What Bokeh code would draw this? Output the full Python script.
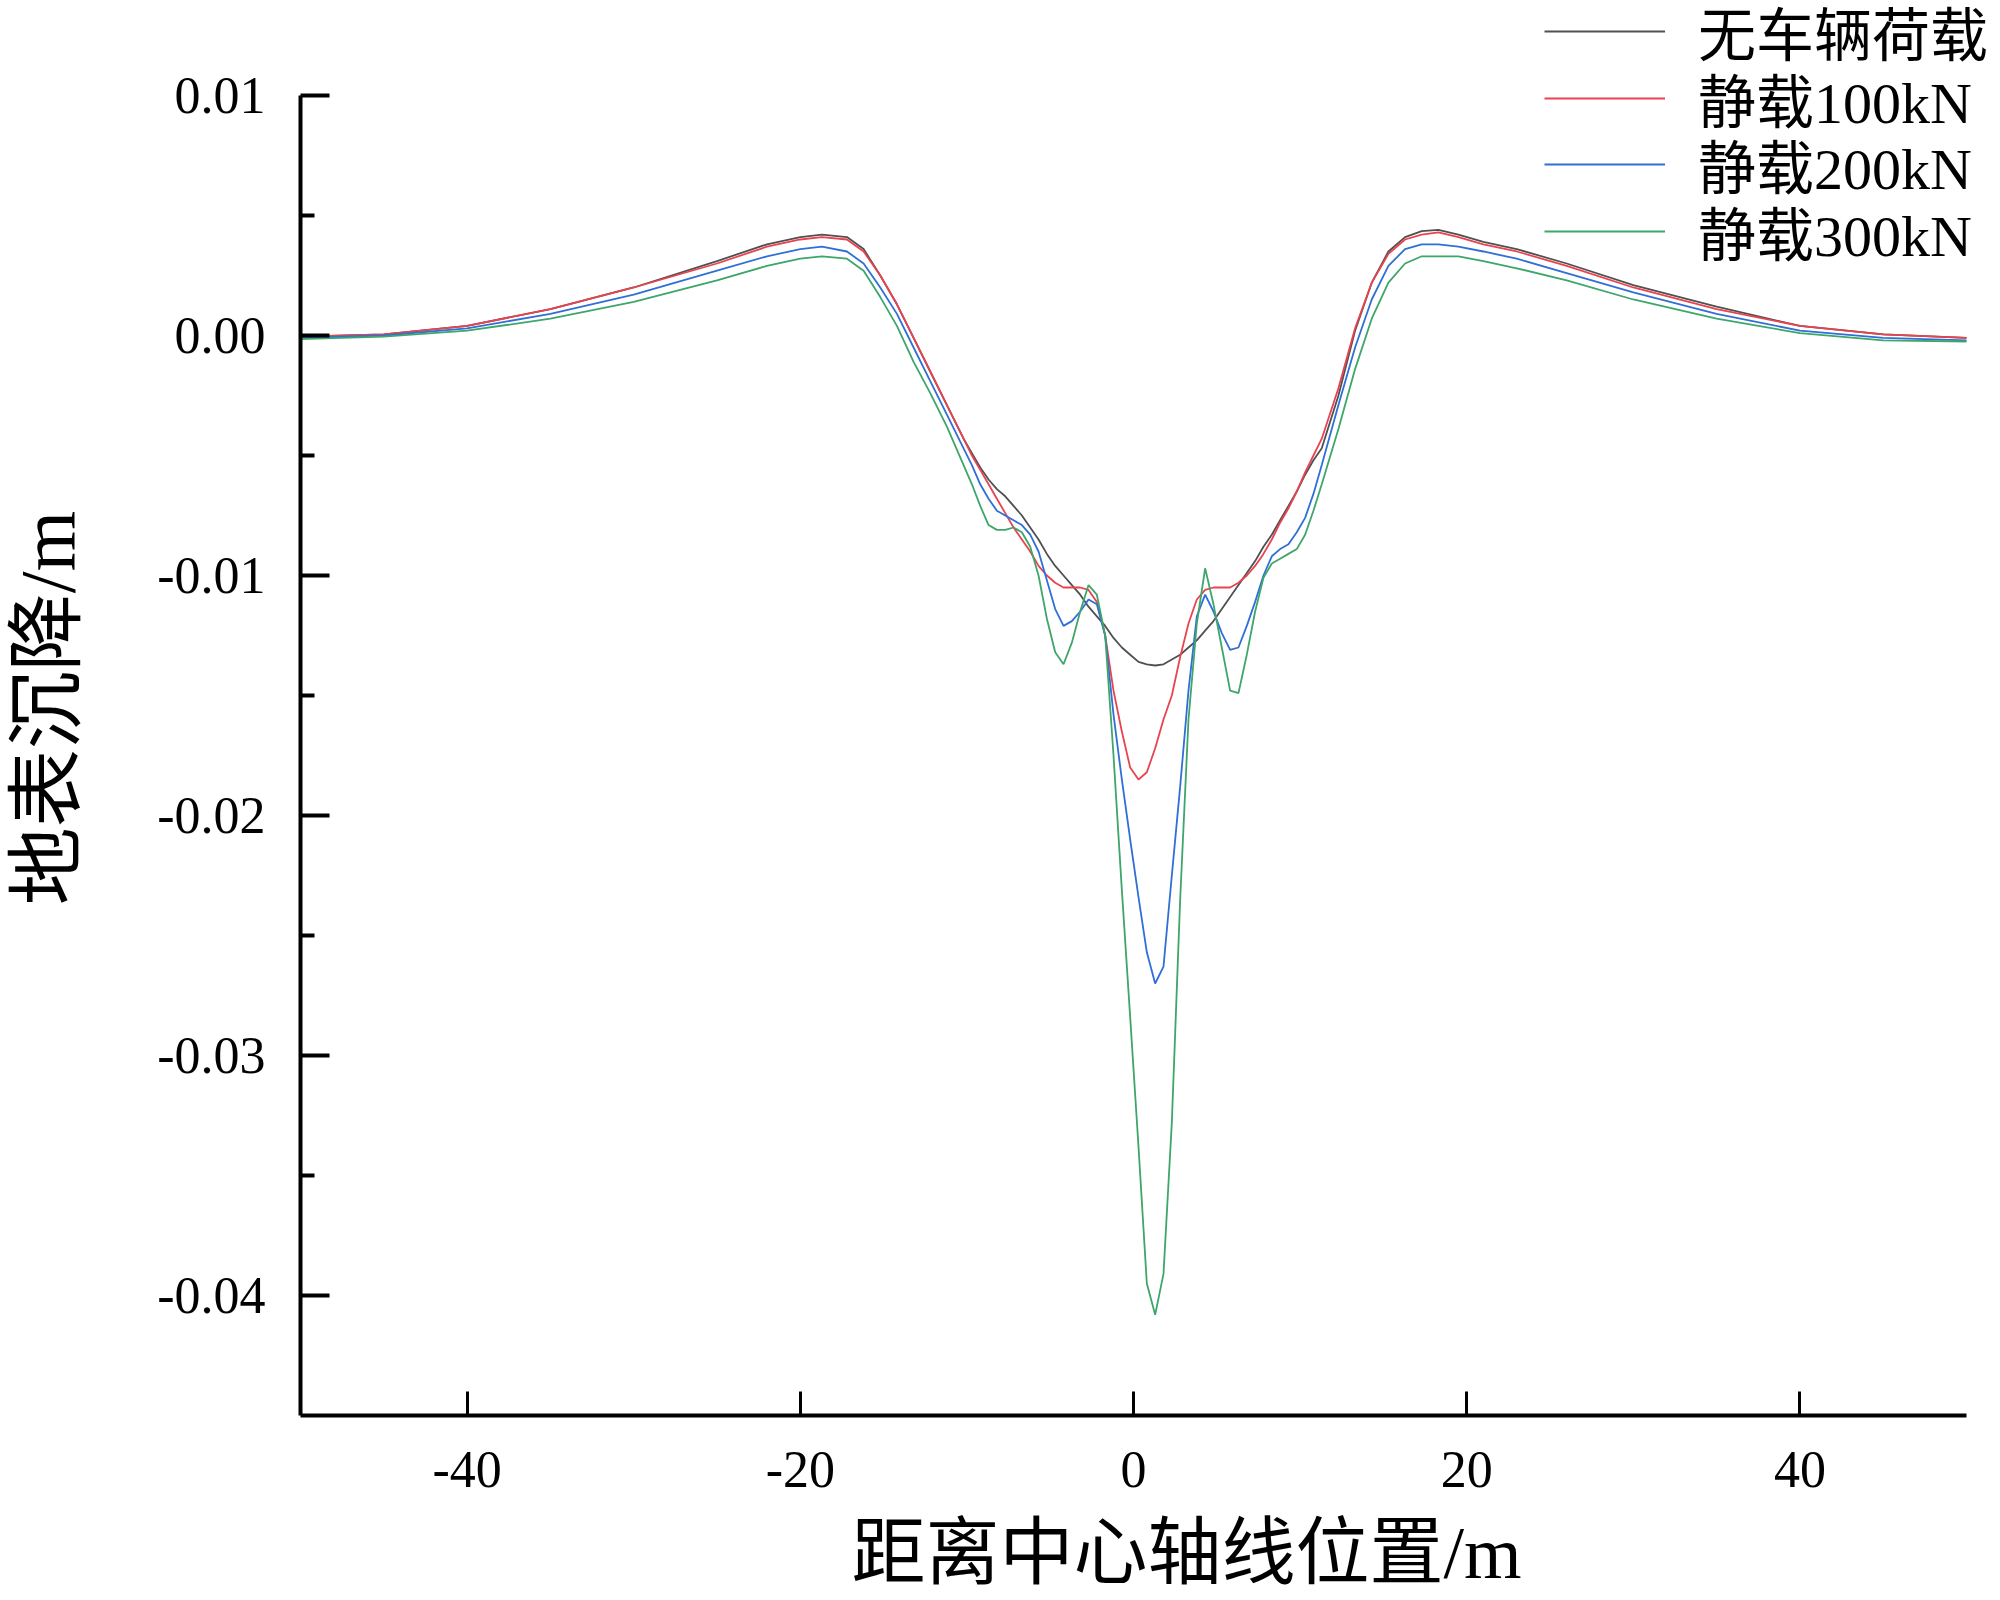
from bokeh.plotting import figure
from bokeh.models import FixedTicker, PrintfTickFormatter, Legend, LegendItem, Title, Range1d
from bokeh.embed import file_html
from bokeh.resources import INLINE

# ---------------- data ----------------
x_pos = [-50, -45, -40, -35, -30, -25, -22, -20, -18.7, -17.2, -16.2, -15.2, -14.2, -13.2, -12.2, -11.2, -10.2,
         -9.7, -9.2, -8.7, -8.2, -7.7, -7.2, -6.7, -6.2, -5.7, -5.2, -4.7, -4.2, -3.7, -3.2, -2.7, -2.2, -1.7,
         -1.2, -0.7, -0.2, 0.3, 0.8, 1.3, 1.8, 2.3, 2.8, 3.3, 3.8, 4.3, 4.8, 5.3, 5.8, 6.3, 6.8, 7.3, 7.8, 8.3,
         8.8, 9.3, 9.8, 10.3, 10.8, 11.3,
         12.3, 13.3, 14.3, 15.3, 16.3, 17.3, 18.3, 19.5, 21, 23, 26, 30, 35, 40, 45, 50]

no_load = [-0.00005, 0.00005, 0.0004, 0.0011, 0.0020, 0.0031, 0.0038, 0.0041, 0.0042, 0.0041, 0.0036, 0.0025,
           0.0013, -0.0001, -0.0015, -0.0029, -0.0043,
           -0.0049, -0.0055, -0.0060, -0.0064, -0.0067, -0.0071, -0.0075, -0.0080, -0.0085, -0.0091,
           -0.0096, -0.0100, -0.0104, -0.0108, -0.0113, -0.0117, -0.0121, -0.0126, -0.0130, -0.0133,
           -0.0136, -0.0137, -0.01375, -0.0137, -0.0135, -0.0133, -0.0130, -0.0127, -0.0123, -0.0119,
           -0.0114, -0.0109, -0.0104, -0.0099, -0.0094, -0.0088, -0.0083, -0.0077, -0.0071, -0.0065,
           -0.0058, -0.0052, -0.0047,
           -0.0025, 0.0002, 0.0022, 0.0035, 0.0041, 0.00435, 0.0044, 0.0042, 0.0039, 0.0036, 0.0030,
           0.0021, 0.0012, 0.0004, 0.00005, -0.0001]

load_100 = [-0.00005, 0.00005, 0.0004, 0.0011, 0.0020, 0.0030, 0.0037, 0.0040, 0.0041, 0.0040, 0.0035, 0.0025,
            0.0013, -0.0001, -0.0015, -0.0029, -0.0043,
            -0.0050, -0.0056, -0.0062, -0.0068, -0.0074, -0.0080, -0.0085, -0.0090, -0.0096, -0.0100,
            -0.0103, -0.0105, -0.0105, -0.0105, -0.0106, -0.0111, -0.0125, -0.0148, -0.0165, -0.0180,
            -0.0185, -0.0182, -0.0172, -0.0160, -0.0150, -0.0134, -0.0120, -0.0110, -0.0106, -0.0105,
            -0.0105, -0.0105, -0.0103, -0.0100, -0.0096, -0.0091, -0.0085, -0.0078, -0.0072, -0.0065,
            -0.0057, -0.0050, -0.0043,
            -0.0022, 0.0003, 0.0022, 0.0034, 0.0040, 0.0042, 0.0043, 0.0041, 0.0038, 0.0035, 0.0029,
            0.0020, 0.0011, 0.0004, 0.00005, -0.0001]

load_200 = [-0.0001, 0.0000, 0.0003, 0.0009, 0.0017, 0.0027, 0.0033, 0.0036, 0.0037, 0.0035, 0.0030, 0.0020,
            0.0009, -0.0005, -0.0019, -0.0033, -0.0047,
            -0.0054, -0.0062, -0.0068, -0.0073, -0.0075, -0.0077, -0.0079, -0.0083, -0.0090, -0.0102,
            -0.0114, -0.0121, -0.0119, -0.0115, -0.0110, -0.0112, -0.0125, -0.0158, -0.0185, -0.0210,
            -0.0234, -0.0257, -0.0270, -0.0263, -0.0225, -0.0188, -0.0148, -0.0117, -0.0108, -0.0115,
            -0.0124, -0.0131, -0.0130, -0.0121, -0.0111, -0.0100, -0.0092, -0.0089, -0.0087, -0.0082,
            -0.0076, -0.0066, -0.0054,
            -0.0029, -0.0005, 0.0015, 0.0029, 0.0036, 0.0038, 0.0038, 0.0037, 0.0035, 0.0032, 0.0026,
            0.0018, 0.0009, 0.0002, -0.0001, -0.0002]

load_300 = [-0.00015, -0.00005, 0.0002, 0.0007, 0.0014, 0.0023, 0.0029, 0.0032, 0.0033, 0.0032, 0.0027, 0.0016,
            0.0004, -0.0011, -0.0024, -0.0038, -0.0054,
            -0.0062, -0.0071, -0.0079, -0.0081, -0.0081, -0.0080, -0.0082, -0.0088, -0.0100, -0.0118,
            -0.0132, -0.0137, -0.0128, -0.0115, -0.0104, -0.0108, -0.0125, -0.0175, -0.0231, -0.0284,
            -0.0338, -0.0395, -0.0408, -0.0391, -0.0328, -0.0235, -0.0160, -0.0120, -0.0097, -0.0112,
            -0.0130, -0.0148, -0.0149, -0.0133, -0.0115, -0.0101, -0.0095, -0.0093, -0.0091, -0.0089,
            -0.0083, -0.0073, -0.0062,
            -0.0039, -0.0014, 0.0007, 0.0022, 0.0030, 0.0033, 0.0033, 0.0033, 0.0031, 0.0028, 0.0023,
            0.0015, 0.0007, 0.0001, -0.0002, -0.00025]

series_names = ["无车辆荷载", "静载100kN", "静载200kN", "静载300kN"]
series_values = [no_load, load_100, load_200, load_300]
series_colors = ["#505050", "#e8434f", "#2f6fd6", "#3ea56b"]

x_ticks = [-40, -20, 0, 20, 40]
y_ticks = [-0.04, -0.03, -0.02, -0.01, 0.0, 0.01]
y_minor = [-0.035, -0.025, -0.015, -0.005, 0.005]
x_limits = (-50, 50)
y_limits = (-0.045, 0.01)

x_title = "距离中心轴线位置/m"
y_title = "地表沉降/m"

# ---------------- figure ----------------
FONT = "'Liberation Serif', 'Noto Sans CJK SC'"

# the frame is extended to the top and right edges so the legend (which
# straddles the axes box in the reference) is not clipped; the axes
# themselves are bounded to the data limits.
p = figure(frame_width=1695, frame_height=1415, title=None,
           x_range=Range1d(-50, 51.74), y_range=Range1d(-0.045, 0.013958),
           output_backend="svg", toolbar_location=None,
           min_border_left=300, min_border_right=0, min_border_top=0, min_border_bottom=185,
           background_fill_color="white", border_fill_color="white")
p.outline_line_color = None
p.xgrid.visible = False
p.ygrid.visible = False

renderers = []
for name, vals, col in zip(series_names, series_values, series_colors):
    r = p.line(x_pos, vals, line_color=col, line_width=1.8)
    renderers.append((name, r))

# axes
xa = p.xaxis[0]
xa.bounds = x_limits
xa.ticker = FixedTicker(ticks=x_ticks, minor_ticks=[])
xa.formatter = PrintfTickFormatter(format="%d")
xa.axis_line_width = 4
xa.axis_line_color = "black"
xa.major_tick_in = 24
xa.major_tick_out = 0
xa.minor_tick_in = 0
xa.minor_tick_out = 0
xa.major_tick_line_width = 3
xa.major_label_text_font = "Liberation Serif"
xa.major_label_text_font_size = "52px"
xa.major_label_text_color = "black"
xa.major_label_standoff = 36

ya = p.yaxis[0]
ya.bounds = y_limits
ya.ticker = FixedTicker(ticks=y_ticks, minor_ticks=y_minor)
ya.formatter = PrintfTickFormatter(format="%.2f")
ya.axis_line_width = 4
ya.axis_line_color = "black"
ya.major_tick_in = 29
ya.major_tick_out = 0
ya.minor_tick_in = 14
ya.minor_tick_out = 0
ya.major_tick_line_width = 4
ya.minor_tick_line_width = 4
ya.major_label_text_font = "Liberation Serif"
ya.major_label_text_font_size = "52px"
ya.major_label_text_color = "black"
ya.major_label_standoff = 35
ya.axis_label = y_title
ya.axis_label_text_font = FONT
ya.axis_label_text_font_size = "78px"
ya.axis_label_text_font_style = "normal"
ya.axis_label_text_color = "black"
ya.axis_label_standoff = 63

# x axis title (offset to match the reference placement)
xt = Title(text=x_title, align="left", offset=551, vertical_align="top", standoff=0,
           text_font=FONT, text_font_size="74px", text_font_style="normal", text_color="black")
if "padding" in Title.properties():
    xt.padding = (0, 0, 22, 0)   # left, right, top, bottom
else:
    xt.standoff = 16
p.add_layout(xt, "below")

# legend: one entry per box so the row pitch matches the reference
row_offsets = [1342, 1275, 1209, 1142]
for (name, r), yoff in zip(renderers, row_offsets):
    lg = Legend(items=[LegendItem(label=name, renderers=[r])],
                location=(1244, yoff), orientation="vertical",
                glyph_width=121, glyph_height=20, label_standoff=33, spacing=0,
                padding=0, margin=0, border_line_color=None, background_fill_alpha=0,
                label_text_font=FONT, label_text_font_size="58px", label_text_color="black")
    p.add_layout(lg)

open("out.html", "w").write(file_html(p, INLINE))
